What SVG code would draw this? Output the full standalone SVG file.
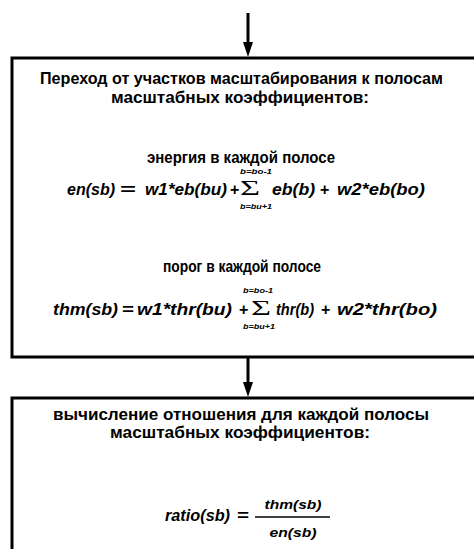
<svg xmlns="http://www.w3.org/2000/svg" width="474" height="549" viewBox="0 0 474 549">
<style>
.box{fill:#fff;stroke:#000;stroke-width:3}
.conn{stroke:#000;stroke-width:3;fill:none}
.t{font-family:"Liberation Sans",Arial,sans-serif;font-weight:bold;font-size:16px;fill:#000}
.c{text-anchor:middle}
.f{font-family:"Liberation Sans",Arial,sans-serif;font-weight:bold;font-style:italic;font-size:16px;fill:#000}
.op{font-family:"Liberation Sans",Arial,sans-serif;font-weight:bold;font-size:16px;fill:#000}
.sig{font-family:"Liberation Serif","Times New Roman",serif;font-size:21px;fill:#000}
.lim{font-family:"Liberation Sans",Arial,sans-serif;font-weight:bold;font-style:italic;font-size:8px;fill:#000}
.fr{font-size:13px}
</style>
<rect width="474" height="549" fill="#fff"/>
<g id="connectors">
<line class="conn" x1="248" y1="13" x2="248" y2="42"/>
<path d="M243,42 L253,42 L248,57 Z" fill="#000"/>
<line class="conn" x1="248" y1="357" x2="248" y2="382"/>
<path d="M243,382 L253,382 L248,397 Z" fill="#000"/>
</g>
<g id="node1">
<rect class="box" x="12" y="58" width="480" height="299"/>
<text class="t c" x="241.5" y="84" textLength="403" lengthAdjust="spacingAndGlyphs">Переход от участков масштабирования к полосам</text>
<text class="t c" x="240" y="103" textLength="258" lengthAdjust="spacingAndGlyphs">масштабных коэффициентов:</text>
<text class="t c" x="241" y="163" textLength="188" lengthAdjust="spacingAndGlyphs">энергия в каждой полосе</text>
<text class="f" x="67" y="195">en(sb)</text>
<text class="op" x="120" y="195" textLength="16" lengthAdjust="spacingAndGlyphs">=</text>
<text class="f" x="145" y="195" textLength="82" lengthAdjust="spacingAndGlyphs">w1*eb(bu)</text>
<text class="op" x="230" y="195">+</text>
<text class="sig" x="240" y="195" textLength="20" lengthAdjust="spacingAndGlyphs">Σ</text>
<text class="lim" x="240" y="174" textLength="32" lengthAdjust="spacingAndGlyphs">b=bo-1</text>
<text class="lim" x="240" y="209" textLength="32" lengthAdjust="spacingAndGlyphs">b=bu+1</text>
<text class="f" x="272" y="195" textLength="43" lengthAdjust="spacingAndGlyphs">eb(b)</text>
<text class="op" x="320" y="195">+</text>
<text class="f" x="337" y="195" textLength="88" lengthAdjust="spacingAndGlyphs">w2*eb(bo)</text>
<text class="t c" x="242" y="272" textLength="158" lengthAdjust="spacingAndGlyphs">порог в каждой полосе</text>
<text class="f" x="53" y="315" textLength="65" lengthAdjust="spacingAndGlyphs">thm(sb)</text>
<text class="op" x="122" y="315" textLength="12" lengthAdjust="spacingAndGlyphs">=</text>
<text class="f" x="137" y="315" textLength="95" lengthAdjust="spacingAndGlyphs">w1*thr(bu)</text>
<text class="op" x="239" y="315">+</text>
<text class="sig" x="251" y="315" textLength="20" lengthAdjust="spacingAndGlyphs">Σ</text>
<text class="lim" x="243" y="293" textLength="30" lengthAdjust="spacingAndGlyphs">b=bo-1</text>
<text class="lim" x="243" y="329" textLength="32" lengthAdjust="spacingAndGlyphs">b=bu+1</text>
<text class="f" x="276" y="315" textLength="38" lengthAdjust="spacingAndGlyphs">thr(b)</text>
<text class="op" x="321" y="315">+</text>
<text class="f" x="337" y="315" textLength="100" lengthAdjust="spacingAndGlyphs">w2*thr(bo)</text>
</g>
<g id="node2">
<rect class="box" x="12" y="398" width="480" height="170"/>
<text class="t c" x="241" y="420" textLength="376" lengthAdjust="spacingAndGlyphs">вычисление отношения для каждой полосы</text>
<text class="t c" x="240" y="438" textLength="260" lengthAdjust="spacingAndGlyphs">масштабных коэффициентов:</text>
<text class="f" x="165" y="521" textLength="65" lengthAdjust="spacingAndGlyphs">ratio(sb)</text>
<text class="op" x="237" y="521" textLength="12" lengthAdjust="spacingAndGlyphs">=</text>
<line x1="255" y1="517" x2="330" y2="517" stroke="#000" stroke-width="1.5"/>
<text class="f c fr" x="293" y="509" textLength="57" lengthAdjust="spacingAndGlyphs">thm(sb)</text>
<text class="f c fr" x="293" y="537" textLength="47" lengthAdjust="spacingAndGlyphs">en(sb)</text>
</g>
</svg>
